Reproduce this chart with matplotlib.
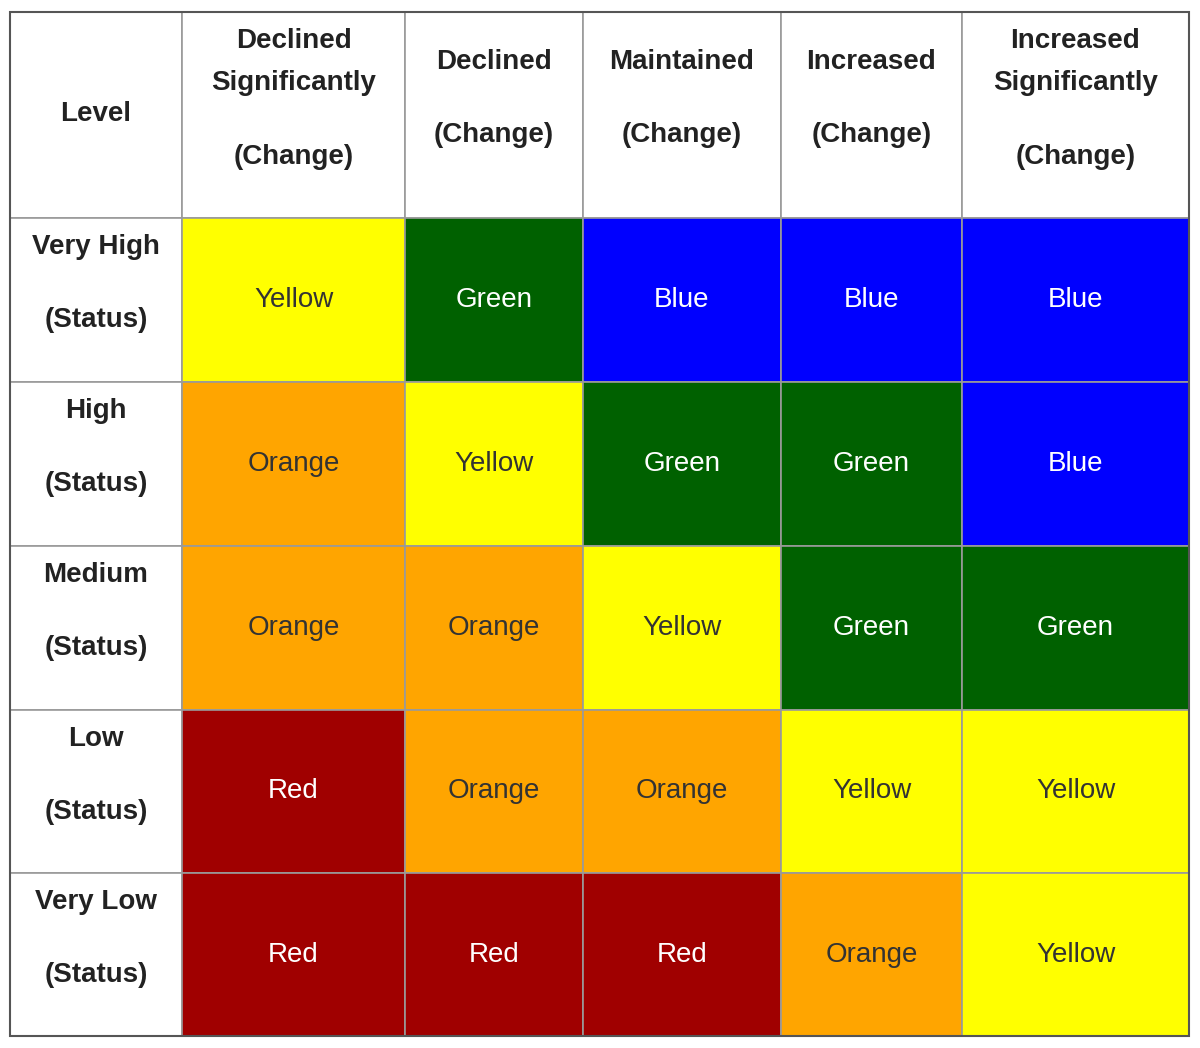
import matplotlib
matplotlib.use("Agg")
import matplotlib.pyplot as plt
from matplotlib.patches import Rectangle

plt.rcParams["font.family"] = ["Liberation Sans", "DejaVu Sans"]

# --- data ---
columns = [["Declined", "Significantly"], ["Declined"], ["Maintained"],
           ["Increased"], ["Increased", "Significantly"]]
col_suffix = "(Change)"
levels = ["Very High", "High", "Medium", "Low", "Very Low"]
row_suffix = "(Status)"
grid = [
    ["Yellow", "Green", "Blue", "Blue", "Blue"],
    ["Orange", "Yellow", "Green", "Green", "Blue"],
    ["Orange", "Orange", "Yellow", "Green", "Green"],
    ["Red", "Orange", "Orange", "Yellow", "Yellow"],
    ["Red", "Red", "Red", "Orange", "Yellow"],
]

fill = {"Yellow": "#FFFF00", "Green": "#006100", "Blue": "#0000FF",
        "Orange": "#FFA500", "Red": "#A00000"}
ink = {"Yellow": "#333333", "Orange": "#333333", "Green": "white",
       "Blue": "white", "Red": "white"}

# --- layout (pixels) ---
xs = [10, 182, 405, 583, 781, 962, 1189]
ys = [12, 218, 382, 546, 710, 873, 1036]
FS = 20

fig = plt.figure(figsize=(12, 10.48), dpi=100)
ax = fig.add_axes([0, 0, 1, 1])
ax.set_xlim(0, 1200)
ax.set_ylim(1048, 0)
ax.axis("off")

def cell(x0, x1, y0, y1, color="white"):
    ax.add_patch(Rectangle((x0, y0), x1 - x0, y1 - y0, facecolor=color,
                           edgecolor="#9a9a9a", linewidth=1.2))

# header row
cell(xs[0], xs[1], ys[0], ys[1])
ax.text((xs[0] + xs[1]) / 2, 114, "Level", ha="center", va="center",
        fontsize=FS, fontweight="bold", color="#222222")
for j, title in enumerate(columns):
    x0, x1 = xs[j + 1], xs[j + 2]
    cell(x0, x1, ys[0], ys[1])
    cx = (x0 + x1) / 2
    if len(title) == 2:
        pos = [41, 83, 157]
    else:
        pos = [62, 135]
    for y, t in zip(pos, title + [col_suffix]):
        ax.text(cx, y, t, ha="center", va="center", fontsize=FS,
                fontweight="bold", color="#222222")

# body
for i, lvl in enumerate(levels):
    y0, y1 = ys[i + 1], ys[i + 2]
    cell(xs[0], xs[1], y0, y1)
    cx = (xs[0] + xs[1]) / 2
    ax.text(cx, y0 + 29, lvl, ha="center", va="center", fontsize=FS,
            fontweight="bold", color="#222222")
    ax.text(cx, y0 + 102, row_suffix, ha="center", va="center", fontsize=FS,
            fontweight="bold", color="#222222")
    for j, c in enumerate(grid[i]):
        x0, x1 = xs[j + 1], xs[j + 2]
        cell(x0, x1, y0, y1, fill[c])
        ax.text((x0 + x1) / 2, (y0 + y1) / 2, c, ha="center", va="center",
                fontsize=FS, color=ink[c])

ax.add_patch(Rectangle((xs[0], ys[0]), xs[-1] - xs[0], ys[-1] - ys[0],
                       fill=False, edgecolor="#555555", linewidth=1.5))

fig.savefig("out.png", dpi=100)
